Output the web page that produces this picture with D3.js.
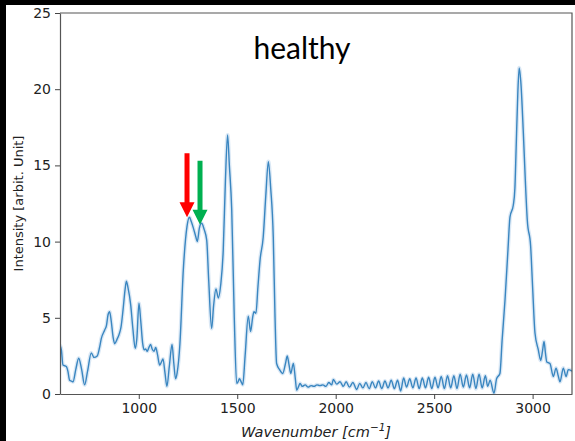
<!DOCTYPE html>
<html>
<head>
<meta charset="utf-8">
<script src="https://cdn.jsdelivr.net/npm/d3@7"></script>
<style>
  body { margin: 0; background: #000; }
  svg { display: block; }
</style>
</head>
<body>
<div id="chart"></div>
<script>
// spectrum: wavenumber [cm^-1] and mean intensity
var wavenumbers = [600, 607, 615, 632, 640, 649, 658, 666, 680, 695, 710, 725, 740, 759, 773, 789, 800, 810, 827, 836,
  844, 852, 860, 870, 878, 890, 900, 910, 920, 930, 937, 945, 959, 970, 982, 990, 1001, 1010, 1020, 1027,
  1035, 1043, 1050, 1060, 1068, 1077, 1086, 1095, 1106, 1115, 1123, 1133, 1143, 1155, 1169, 1178, 1187, 1195, 1209, 1226,
  1245, 1257, 1267, 1277, 1290, 1297, 1308, 1319, 1332, 1345, 1355, 1370, 1380, 1392, 1404, 1416, 1429, 1440, 1451, 1460,
  1472, 1485, 1497, 1504, 1511, 1520, 1528, 1540, 1556, 1568, 1578, 1585, 1595, 1605, 1616, 1632, 1645, 1658, 1670, 1683,
  1692, 1700, 1715, 1731, 1745, 1754, 1762, 1772, 1785, 1795, 1802, 1812, 1819, 1830, 1845, 1860, 1875, 1890, 1905, 1920,
  1935, 1950, 1965, 1980, 1988, 2005, 2022, 2039, 2053, 2070, 2087, 2107, 2122, 2138, 2154, 2170, 2186, 2202, 2218, 2234,
  2250, 2266, 2282, 2298, 2314, 2330, 2345, 2360, 2376, 2392, 2408, 2424, 2440, 2456, 2472, 2488, 2504, 2520, 2536, 2552,
  2568, 2584, 2600, 2616, 2632, 2648, 2664, 2680, 2696, 2712, 2728, 2744, 2760, 2772, 2784, 2804, 2817, 2834, 2845, 2860,
  2875, 2885, 2902, 2910, 2916, 2925, 2932, 2940, 2953, 2963, 2973, 2990, 3000, 3012, 3029, 3041, 3050, 3058, 3065, 3072,
  3088, 3105, 3119, 3130, 3139, 3156, 3170, 3181, 3200];
var intensity = [3.2, 2.9, 1.9, 1.8, 1.5, 0.9, 0.85, 0.8, 1.6, 2.35, 1.6, 0.6, 1.5, 2.7, 2.4, 2.5, 3.0, 3.65, 4.2, 4.5,
  5.2, 5.4, 4.8, 3.7, 3.3, 3.6, 3.9, 4.4, 5.5, 6.8, 7.4, 7.0, 5.85, 4.3, 3.0, 3.6, 5.95, 4.8, 3.3, 2.9,
  2.95, 2.8, 3.0, 3.25, 2.95, 2.8, 3.05, 2.6, 1.9, 2.1, 2.3, 1.4, 0.5, 1.8, 3.25, 2.0, 1.0, 1.4, 3.3, 8.1,
  11.0, 11.6, 11.3, 10.9, 10.3, 10.0, 10.9, 11.2, 10.8, 10.1, 7.5, 4.3, 5.8, 6.9, 6.3, 7.15, 9.45, 14.0, 17.0, 15.0,
  12.1, 5.0, 0.7, 0.8, 1.0, 0.8, 0.6, 2.5, 5.1, 4.1, 5.0, 5.4, 5.3, 7.0, 8.8, 10.3, 13.0, 15.25, 13.5, 10.3,
  5.0, 2.0, 1.6, 1.35, 2.0, 2.5, 2.0, 1.35, 2.0, 1.0, 0.25, 0.5, 0.7, 0.5, 0.6, 0.45, 0.55, 0.5, 0.6, 0.55,
  0.6, 0.5, 0.75, 0.6, 0.95, 0.65, 0.8, 0.5, 0.8, 0.45, 0.75, 0.3, 0.7, 0.4, 0.75, 0.35, 0.8, 0.4, 0.85, 0.35,
  0.85, 0.4, 0.9, 0.35, 0.9, 0.2, 1.05, 0.45, 1.0, 0.4, 1.05, 0.35, 1.05, 0.4, 1.1, 0.35, 1.1, 0.4, 1.15, 0.35,
  1.2, 0.4, 1.2, 0.35, 1.3, 0.45, 1.25, 0.4, 1.3, 0.35, 1.3, 0.4, 1.2, 0.5, 0.9, 0.05, 1.0, 1.35, 3.5, 6.2,
  9.5, 11.6, 12.4, 13.5, 16.0, 19.8, 21.4, 20.5, 17.1, 14.0, 11.4, 9.7, 7.0, 4.0, 2.9, 2.2, 2.8, 3.45, 2.7, 2.1,
  2.0, 1.15, 1.7, 1.2, 0.8, 1.7, 1.15, 1.6, 1.5];

var xTicks = [1000, 1500, 2000, 2500, 3000];
var yTicks = [0, 5, 10, 15, 20, 25];
var title = "healthy";
// arrows pointing at the two bands near 1250 and 1310: wavenumber and intensity of the tip
var arrowNames = ["red", "green"];
var arrowWn = [1245, 1311];
var arrowVal = [11.6, 11.1];

var W = 575, H = 441;
var margin = {top: 13, right: 3, bottom: 47, left: 60},
    width = W - margin.left - margin.right,
    height = H - margin.top - margin.bottom;

var svg = d3.select("#chart").append("svg")
    .attr("width", W)
    .attr("height", H);

// white paper on the black slide
svg.append("rect")
    .attr("x", 6).attr("y", 5)
    .attr("width", W - 6).attr("height", H - 5)
    .attr("fill", "#fff");

var g = svg.append("g")
    .attr("transform", "translate(" + margin.left + "," + margin.top + ")");

var x = d3.scaleLinear().domain([600, 3200]).range([0, width]);
var y = d3.scaleLinear().domain([0, 25]).range([height, 0]);

var pts = wavenumbers.map(function(d, i) { return [d, intensity[i]]; });

var line = d3.line()
    .x(function(d) { return x(d[0]); })
    .y(function(d) { return y(d[1]); })
    .curve(d3.curveMonotoneX);

g.append("defs").append("clipPath")
    .attr("id", "clip")
  .append("rect")
    .attr("width", width)
    .attr("height", height);

var plot = g.append("g").attr("clip-path", "url(#clip)");

// faint spread band around the mean
plot.append("path")
    .datum(pts)
    .attr("d", line)
    .attr("fill", "none")
    .attr("stroke", "#aecde8")
    .attr("stroke-opacity", 0.45)
    .attr("stroke-width", 4);

plot.append("path")
    .datum(pts)
    .attr("d", line)
    .attr("fill", "none")
    .attr("stroke", "#3a86c0")
    .attr("stroke-width", 1.4);

// axes
var xAxis = g.append("g")
    .attr("transform", "translate(0," + height + ")")
    .call(d3.axisBottom(x).tickValues(xTicks).tickFormat(d3.format("d"))
      .tickSize(5).tickPadding(4).tickSizeOuter(0));
var yAxis = g.append("g")
    .call(d3.axisLeft(y).tickValues(yTicks).tickFormat(d3.format("d"))
      .tickSize(5).tickPadding(4).tickSizeOuter(0));

[xAxis, yAxis].forEach(function(a) {
  a.selectAll("text")
      .attr("font-family", "DejaVu Sans")
      .attr("font-size", 14)
      .attr("fill", "#222");
  a.selectAll("line").attr("stroke", "#444");
  a.select(".domain").attr("stroke", "#555").attr("stroke-width", 1.2);
});

// box frame (top and right)
g.append("path")
    .attr("d", "M0,0H" + width + "V" + height)
    .attr("fill", "none")
    .attr("stroke", "#555")
    .attr("stroke-width", 1.2);

// axis labels
svg.append("text")
    .attr("transform", "translate(23," + (margin.top + height / 2) + ") rotate(-90)")
    .attr("text-anchor", "middle")
    .attr("font-family", "DejaVu Sans")
    .attr("font-size", 13)
    .attr("fill", "#222")
    .text("Intensity [arbit. Unit]");

var xl = svg.append("text")
    .attr("x", margin.left + width / 2)
    .attr("y", 437)
    .attr("text-anchor", "middle")
    .attr("font-family", "DejaVu Sans")
    .attr("font-size", 14.5)
    .attr("font-style", "italic")
    .attr("fill", "#222");
xl.append("tspan").text("Wavenumber [");
xl.append("tspan").text("cm");
xl.append("tspan").attr("dy", -6).attr("font-size", 10.5).text("\u22121");
xl.append("tspan").attr("dy", 6).text("]");

// title inside the plot
svg.append("text")
    .attr("x", 302)
    .attr("y", 59)
    .attr("text-anchor", "middle")
    .attr("font-family", "Lato")
    .attr("font-size", 30)
    .attr("fill", "#000")
    .text(title);

// arrows
var arrowColor = {red: "#ff0000", green: "#00b050"};
var arrowLen = [64, 64];
arrowNames.forEach(function(name, i) {
  var tx = x(arrowWn[i]) + margin.left,
      ty = y(arrowVal[i]) + margin.top,
      len = arrowLen[i], head = 15, hw = 7.5, sw = 2.5;
  svg.append("path")
      .attr("d", "M" + (tx - sw) + "," + (ty - len) +
                 "H" + (tx + sw) + "V" + (ty - head) +
                 "H" + (tx + hw) + "L" + tx + "," + ty +
                 "L" + (tx - hw) + "," + (ty - head) +
                 "H" + (tx - sw) + "Z")
      .attr("fill", arrowColor[name]);
});
</script>
</body>
</html>
